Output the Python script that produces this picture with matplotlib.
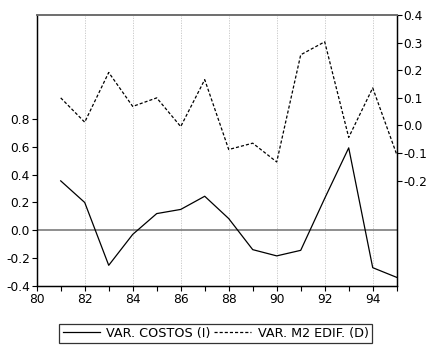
import matplotlib
matplotlib.use("Agg")
import matplotlib.pyplot as plt
from matplotlib.ticker import FixedLocator, FormatStrFormatter
from matplotlib.lines import Line2D

plt.rcParams['font.family'] = ['DejaVu Sans']

years = [81, 82, 83, 84, 85, 86, 87, 88, 89, 90, 91, 92, 93, 94, 95]
var_costos = [0.356, 0.20, -0.253, -0.03, 0.12, 0.15, 0.245, 0.084,
              -0.14, -0.185, -0.145, 0.23, 0.594, -0.27, -0.34]
var_m2_edif = [0.10, 0.012, 0.192, 0.069, 0.10, -0.004, 0.166, -0.087,
               -0.064, -0.132, 0.256, 0.303, -0.043, 0.136, -0.105]
left_ticks = [-0.4, -0.2, 0.0, 0.2, 0.4, 0.6, 0.8]
right_ticks = [-0.2, -0.1, 0.0, 0.1, 0.2, 0.3, 0.4]
x_labels = [80, 82, 84, 86, 88, 90, 92, 94]
label_costos = "VAR. COSTOS (I)"
label_m2 = "VAR. M2 EDIF. (D)"

fs = 8.8
fig = plt.figure(figsize=(4.33, 3.45), dpi=100)
ax = fig.add_axes([0.0848, 0.1719, 0.9162 - 0.0848, 0.9565 - 0.1719])
ax2 = ax.twinx()

ax.set_xlim(80, 95)
ax.set_ylim(-0.4, 1.552)
ax2.set_ylim(-0.58, 0.4)

# vertical dotted grid at even years
for yr in x_labels[1:]:
    ax.axvline(yr, color='#c4c4c4', lw=0.6, ls=(0, (1.5, 1.5)), zorder=0)

ax.axhline(0.0, color='#707070', lw=1.1, zorder=1)

ax.plot(years, var_costos, color='black', lw=0.9, zorder=3)
ax2.plot(years, var_m2_edif, color='black', lw=0.9, ls=(0, (2.5, 1.6)), zorder=3)

ax.xaxis.set_major_locator(FixedLocator(x_labels))
ax.xaxis.set_minor_locator(FixedLocator([y for y in range(81, 96, 2)]))
ax.yaxis.set_major_locator(FixedLocator(left_ticks))
ax.yaxis.set_major_formatter(FormatStrFormatter('%.1f'))
ax2.yaxis.set_major_locator(FixedLocator(right_ticks))
ax2.yaxis.set_major_formatter(FormatStrFormatter('%.1f'))

for a in (ax, ax2):
    a.tick_params(axis='both', which='both', direction='out', length=3.5,
                  width=0.8, labelsize=fs, pad=1.5, colors='black')
ax.tick_params(axis='x', which='minor', length=3.5)

for a in (ax, ax2):
    a.spines['top'].set_color('#707070')
    a.spines['top'].set_linewidth(1.3)
    a.spines['left'].set_linewidth(0.9)
    a.spines['bottom'].set_linewidth(0.9)
    a.spines['right'].set_linewidth(0.9)

handles = [Line2D([], [], color='black', lw=0.9),
           Line2D([], [], color='black', lw=0.9, ls=(0, (2.5, 1.6)))]
leg = fig.legend(handles, [label_costos, label_m2], loc='center',
                 bbox_to_anchor=(0.498, 0.034), ncol=2, fontsize=9.2,
                 frameon=True, fancybox=False, handlelength=2.9,
                 handletextpad=0.5, columnspacing=0.3, borderpad=0.25,
                 borderaxespad=0.0)
leg.get_frame().set_edgecolor('black')
leg.get_frame().set_linewidth(0.9)

fig.savefig("out.png", dpi=100)
